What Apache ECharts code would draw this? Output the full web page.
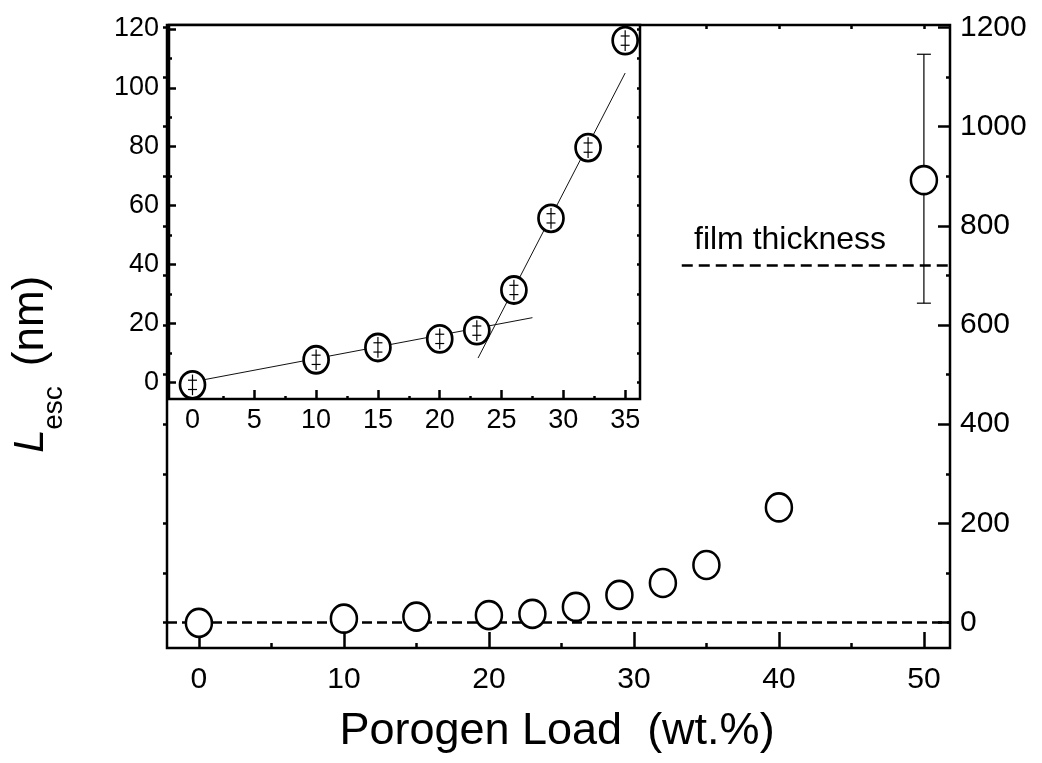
<!DOCTYPE html>
<html><head><meta charset="utf-8">
<script src="https://cdn.jsdelivr.net/npm/echarts@6/dist/echarts.min.js"></script>
<style>html,body{margin:0;padding:0;background:#fff}#c{width:1042px;height:763px}</style>
</head><body><div id="c"></div>
<script>
// ---- data ----
const loads = [0, 10, 15, 20, 23, 26, 29, 32, 35, 40, 50];
const lesc  = [-0.8, 7.7, 11.9, 14.8, 17.6, 31.4, 55.7, 79.7, 116, 232, 892];
const errMinus = [3.5, 3.5, 3.5, 3.5, 3.5, 3.5, 3.5, 3.5, 3.5, 8, 248];
const errPlus  = [3.5, 3.5, 3.5, 3.5, 3.5, 3.5, 3.5, 3.5, 3.5, 8, 254];
const insetCount = 9;
const fitLow  = [[1, 1], [27.5, 22]];
const fitHigh = [[23.1, 8.3], [35, 105]];
const filmThickness = 720;
const filmLineStart = 33.3;
const mainXTicks = [0, 10, 20, 30, 40, 50];
const mainXMinor = [5, 15, 25, 35, 45];
const mainTopTicks = [0, 5, 10, 15, 20, 25, 30, 35, 40, 45, 50];
const mainYTicks = [0, 200, 400, 600, 800, 1000, 1200];
const mainYMinor = [100, 300, 500, 700, 900, 1100];
const mainLeftTicks = [0, 100, 200, 300, 400, 500, 600, 700, 800, 900, 1000, 1100, 1200];
const insetXTicks = [0, 5, 10, 15, 20, 25, 30, 35];
const insetXMinor = [2.5, 7.5, 12.5, 17.5, 22.5, 27.5, 32.5];
const insetYTicks = [0, 20, 40, 60, 80, 100, 120];
const insetYMinor = [10, 30, 50, 70, 90, 110];
const insetRightTicks = [0, 10, 20, 30, 40, 50, 60, 70, 80, 90, 100, 110, 120];
const xTitle = 'Porogen Load  (wt.%)';
const filmLabel = 'film thickness';

// ---- ranges ----
const MX = [-2.2, 51.8], MY = [-51.4, 1205];
const IX = [-1.9, 36.2], IY = [-5.6, 121.3];

const FONT = '"Liberation Sans", Arial, Helvetica, sans-serif';
const chart = echarts.init(document.getElementById('c'), null, {renderer: 'canvas'});
const plain = v => String(v);
const tickStyle = {color: '#000', width: 2.5};

function xAx(grid, min, max, opts) {
  return Object.assign({
    type: 'value', gridIndex: grid, min: min, max: max, position: 'bottom',
    axisLine: {show: false, onZero: false}, splitLine: {show: false},
    axisLabel: {show: false}, axisTick: {show: false}
  }, opts);
}
function yAx(grid, min, max, opts) {
  return Object.assign({
    type: 'value', gridIndex: grid, min: min, max: max, position: 'left',
    axisLine: {show: false, onZero: false}, splitLine: {show: false},
    axisLabel: {show: false}, axisTick: {show: false}
  }, opts);
}

const pts = loads.map((x, i) => [x, lesc[i], errMinus[i], errPlus[i]]);
const insetPts = pts.slice(0, insetCount);

function errRender(capHalf, capFrac) {
  return function (params, api) {
    const x = api.value(0), y = api.value(1), lo = api.value(2), hi = api.value(3);
    const pT = api.coord([x, y + hi]);
    const pB = api.coord([x, y - lo]);
    const cT = api.coord([x, y + hi * capFrac]);
    const cB = api.coord([x, y - lo * capFrac]);
    const st = {stroke: '#000', lineWidth: 1.2};
    return {type: 'group', children: [
      {type: 'line', shape: {x1: pT[0], y1: pT[1], x2: pB[0], y2: pB[1]}, style: st},
      {type: 'line', shape: {x1: cT[0] - capHalf, y1: cT[1], x2: cT[0] + capHalf, y2: cT[1]}, style: st},
      {type: 'line', shape: {x1: cB[0] - capHalf, y1: cB[1], x2: cB[0] + capHalf, y2: cB[1]}, style: st}
    ]};
  };
}

const option = {
  animation: false,
  backgroundColor: '#fff',
  textStyle: {fontFamily: FONT, color: '#000'},
  grid: [
    {left: 167, right: 92, top: 25, bottom: 115, show: true, borderColor: '#000', borderWidth: 2.5, backgroundColor: 'transparent', z: 0},
    {left: 169, right: 402, top: 25, bottom: 364, show: true, borderColor: '#000', borderWidth: 2.5, backgroundColor: '#fff', z: 5}
  ],
  xAxis: [
    xAx(0, MX[0], MX[1], {
      axisTick: {show: true, inside: true, length: 16, lineStyle: tickStyle, customValues: mainXTicks},
      axisLabel: {show: true, customValues: mainXTicks, formatter: plain, fontSize: 30, margin: 17, color: '#000', fontFamily: FONT}
    }),
    xAx(0, MX[0], MX[1], {axisTick: {show: true, inside: true, length: 5, lineStyle: tickStyle, customValues: mainXMinor}}),
    xAx(0, MX[0], MX[1], {position: 'top', axisTick: {show: true, inside: true, length: 4, lineStyle: tickStyle, customValues: mainTopTicks}}),
    xAx(1, IX[0], IX[1], {
      z: 6,
      axisTick: {show: true, inside: true, length: 9, lineStyle: tickStyle, customValues: insetXTicks},
      axisLabel: {show: true, customValues: insetXTicks, formatter: plain, fontSize: 27, margin: 8, color: '#000', fontFamily: FONT}
    }),
    xAx(1, IX[0], IX[1], {z: 6, axisTick: {show: true, inside: true, length: 3, lineStyle: tickStyle, customValues: insetXMinor}})
  ],
  yAxis: [
    yAx(0, MY[0], MY[1], {position: 'right',
      axisTick: {show: true, inside: true, length: 12, lineStyle: tickStyle, customValues: mainYTicks},
      axisLabel: {show: true, customValues: mainYTicks, formatter: plain, fontSize: 30, margin: 10, color: '#000', fontFamily: FONT}}),
    yAx(0, MY[0], MY[1], {position: 'right',
      axisTick: {show: true, inside: true, length: 4, lineStyle: tickStyle, customValues: mainYMinor}}),
    yAx(0, MY[0], MY[1], {position: 'left',
      axisTick: {show: true, inside: false, length: 4, lineStyle: tickStyle, customValues: mainLeftTicks}}),
    yAx(1, IY[0], IY[1], {position: 'left', z: 6,
      axisTick: {show: true, inside: true, length: 7, lineStyle: tickStyle, customValues: insetYTicks},
      axisLabel: {show: true, customValues: insetYTicks, formatter: plain, fontSize: 27, margin: 10, color: '#000', fontFamily: FONT}}),
    yAx(1, IY[0], IY[1], {position: 'left', z: 6,
      axisTick: {show: true, inside: true, length: 3, lineStyle: tickStyle, customValues: insetYMinor}}),
    yAx(1, IY[0], IY[1], {position: 'right', z: 6,
      axisTick: {show: true, inside: true, length: 3, lineStyle: tickStyle, customValues: insetRightTicks}})
  ],
  series: [
    {type: 'line', xAxisIndex: 0, yAxisIndex: 0, data: [[MX[0], 0], [MX[1], 0]], symbol: 'none', z: 1,
      lineStyle: {color: '#000', width: 2.5, type: [10, 5]}, silent: true},
    {type: 'line', xAxisIndex: 0, yAxisIndex: 0, data: [[filmLineStart, filmThickness], [MX[1], filmThickness]], symbol: 'none', z: 1,
      lineStyle: {color: '#000', width: 2.5, type: [11, 6]}, silent: true},
    {type: 'custom', xAxisIndex: 0, yAxisIndex: 0, data: pts, renderItem: errRender(7, 1), z: 2, clip: false},
    {type: 'scatter', xAxisIndex: 0, yAxisIndex: 0, data: pts.map(p => [p[0], p[1]]), symbol: 'circle', symbolSize: [26, 28], z: 3, clip: false,
      itemStyle: {color: '#fff', borderColor: '#000', borderWidth: 2.6, opacity: 1}},
    {type: 'line', xAxisIndex: 3, yAxisIndex: 3, data: fitLow, symbol: 'none', z: 7, lineStyle: {color: '#111', width: 1}},
    {type: 'line', xAxisIndex: 3, yAxisIndex: 3, data: fitHigh, symbol: 'none', z: 7, lineStyle: {color: '#111', width: 1}},
    {type: 'scatter', xAxisIndex: 3, yAxisIndex: 3, data: insetPts.map(p => [p[0], p[1]]), symbol: 'circle', symbolSize: [25, 27], z: 8, clip: false,
      itemStyle: {color: '#fff', borderColor: '#000', borderWidth: 2.8, opacity: 1}},
    {type: 'custom', xAxisIndex: 3, yAxisIndex: 3, data: insetPts, renderItem: errRender(4.5, 0.45), z: 9, clip: false}
  ],
  graphic: [
    {type: 'text', x: 557, y: 732, z: 20, style: {text: xTitle, font: '45px ' + FONT, fill: '#000', textAlign: 'center', textVerticalAlign: 'middle'}},
    {type: 'text', x: 694, y: 240, z: 20, style: {text: filmLabel, font: '32px ' + FONT, fill: '#000', textAlign: 'left', textVerticalAlign: 'middle'}},
    {type: 'text', x: 31, y: 441, rotation: Math.PI / 2, z: 20, style: {text: 'L', font: 'italic 42px ' + FONT, fill: '#000', textAlign: 'center', textVerticalAlign: 'middle'}},
    {type: 'text', x: 54, y: 408, rotation: Math.PI / 2, z: 20, style: {text: 'esc', font: '28px ' + FONT, fill: '#000', textAlign: 'center', textVerticalAlign: 'middle'}},
    {type: 'text', x: 31, y: 321, rotation: Math.PI / 2, z: 20, style: {text: '(nm)', font: '44px ' + FONT, fill: '#000', textAlign: 'center', textVerticalAlign: 'middle'}}
  ]
};
chart.setOption(option);
</script>
</body></html>
